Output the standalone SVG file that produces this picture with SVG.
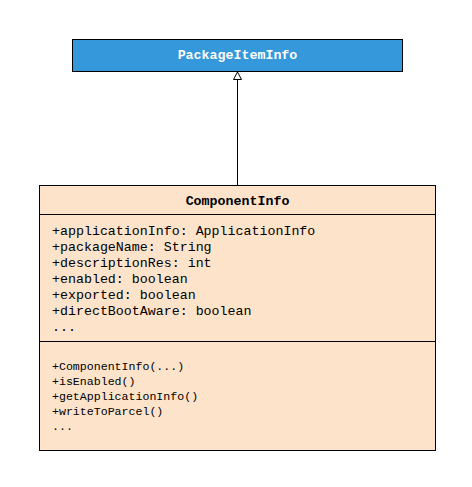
<svg xmlns="http://www.w3.org/2000/svg" width="472" height="487" viewBox="0 0 472 487">
<style>
.box{stroke:#000;stroke-width:1}
.mono{font-family:"Liberation Mono","Courier New",monospace;fill:#000}
.attr{font-size:13.3px}
.meth{font-size:11.6px}
.title{font-weight:bold;font-size:13.3px;text-anchor:middle}
</style>
<rect width="472" height="487" fill="#fff"/>
<g id="connectors">
<line x1="237.5" y1="79.5" x2="237.5" y2="185.5" stroke="#000" stroke-width="1"/>
<polygon points="237.5,72 233.5,79.5 241.5,79.5" fill="#fff" stroke="#000" stroke-width="1"/>
</g>
<g id="PackageItemInfo">
<rect class="box" x="72.5" y="39.5" width="330" height="32" fill="#3498db"/>
<text class="mono title" x="237.5" y="59" fill="#fff" style="fill:#fff">PackageItemInfo</text>
</g>
<g id="ComponentInfo">
<rect class="box" x="39.5" y="185.5" width="396" height="265" fill="#fde3ca"/>
<line class="box" x1="39.5" y1="214.5" x2="435.5" y2="214.5"/>
<line class="box" x1="39.5" y1="341.5" x2="435.5" y2="341.5"/>
<text class="mono title" x="237.5" y="205">ComponentInfo</text>
<text class="mono attr" x="52" y="235">+applicationInfo: ApplicationInfo</text>
<text class="mono attr" x="52" y="251">+packageName: String</text>
<text class="mono attr" x="52" y="267">+descriptionRes: int</text>
<text class="mono attr" x="52" y="283">+enabled: boolean</text>
<text class="mono attr" x="52" y="299">+exported: boolean</text>
<text class="mono attr" x="52" y="315">+directBootAware: boolean</text>
<text class="mono attr" x="52" y="331">...</text>
<text class="mono meth" x="52" y="370">+ComponentInfo(...)</text>
<text class="mono meth" x="52" y="385">+isEnabled()</text>
<text class="mono meth" x="52" y="400">+getApplicationInfo()</text>
<text class="mono meth" x="52" y="415">+writeToParcel()</text>
<text class="mono meth" x="52" y="430">...</text>
</g>
</svg>
